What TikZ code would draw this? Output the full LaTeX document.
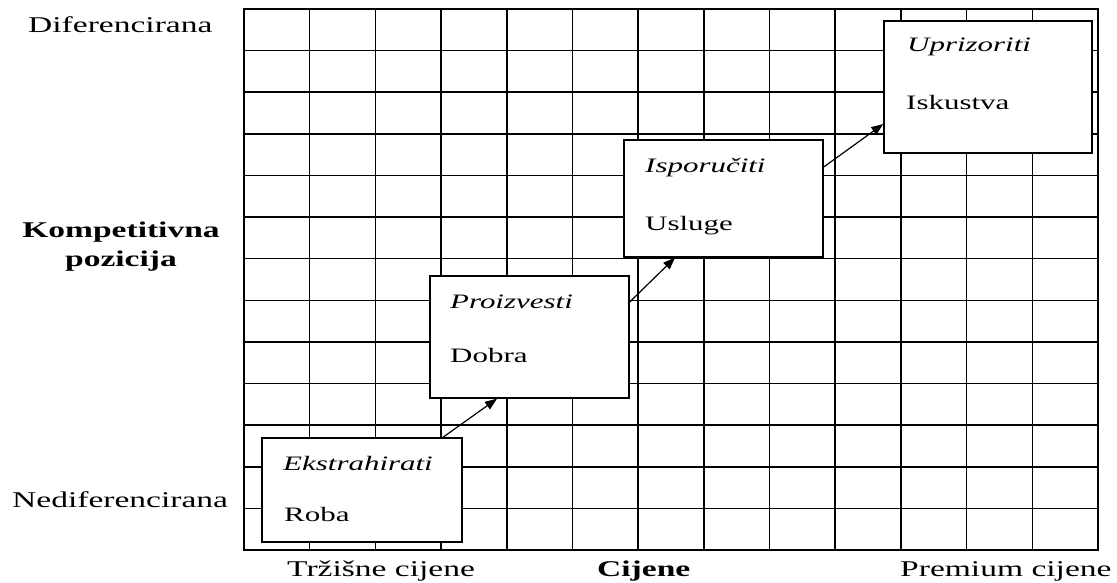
\documentclass[tikz,border=0pt]{standalone}
\usepackage{fontspec}
\usepackage{graphicx}
\setmainfont{Liberation Serif}
\usetikzlibrary{arrows.meta,calc}
\newcommand\wideL[1]{\scalebox{1.49}[1]{#1}}
\newcommand\wideT[1]{\scalebox{1.51}[1]{#1}}
\begin{document}
\begin{tikzpicture}[x=1pt,y=-1pt,
  gridline/.style={line width=1.5pt},
  box/.style={draw, fill=white, line width=1.4pt, inner sep=0pt},
  lbl/.style={font=\fontsize{22.5}{27}\selectfont, inner sep=0pt, anchor=base west},
  boxtxt/.style={font=\fontsize{20.5}{25}\selectfont, inner sep=0pt, anchor=base west},
  arr/.style={line width=1.2pt, -{Triangle[length=12pt,width=9pt]}}]
\useasboundingbox (0,0) rectangle (1117,583);
\fill[white] (0,0) rectangle (1117,583);
% grid
\foreach \i in {1,...,12} {
  \draw[gridline] ({244+\i*854/13},9) -- ({244+\i*854/13},550);
  \draw[gridline] (244,{9+\i*541/13}) -- (1098,{9+\i*541/13});
}
\draw[gridline] (244,9) rectangle (1098,550);
% boxes
\node[box, minimum width=200pt, minimum height=104pt] (b1) at (362,490) {};
\node[box, minimum width=199pt, minimum height=122pt] (b2) at (529.5,337) {};
\node[box, minimum width=199pt, minimum height=117pt] (b3) at (723.5,198.5) {};
\node[box, minimum width=208pt, minimum height=132pt] (b4) at (988,87) {};
% box texts
\node[boxtxt] (t1a) at (283,470) {\wideT{\itshape Ekstrahirati}};
\node[boxtxt] (t1b) at (284,521) {\wideT{Roba}};
\node[boxtxt] (t2a) at (450,308) {\wideT{\itshape Proizvesti}};
\node[boxtxt] (t2b) at (450,362) {\wideT{Dobra}};
\node[boxtxt] (t3a) at (645,172) {\wideT{\itshape Isporučiti}};
\node[boxtxt] (t3b) at (645,230) {\wideT{Usluge}};
\node[boxtxt] (t4a) at (907,52) {\wideT{\itshape Uprizoriti}};
\node[boxtxt] (t4b) at (906,110) {\wideT{Iskustva}};
% arrows
\draw[arr] ([xshift=81pt]b1.north) -- ([xshift=-32.5pt]b2.south);
\draw[arr] ([yshift=35pt]b2.east) -- ([xshift=-48.5pt]b3.south);
\draw[arr] ([yshift=31.5pt]b3.east) -- ([yshift=-37pt]b4.west);
% axis labels
\node[lbl] (ldif) at (28,33) {\wideL{Diferencirana}};
\node[lbl, anchor=base] (lkomp) at (121,237) {\wideL{\bfseries Kompetitivna}};
\node[lbl, anchor=base] (lpoz) at (121,266) {\wideL{\bfseries pozicija}};
\node[lbl] (lnedif) at (12,507) {\wideL{Nediferencirana}};
\node[lbl] (ltrz) at (287,576) {\wideL{Tržišne cijene}};
\node[lbl] (lcij) at (597,576) {\wideL{\bfseries Cijene}};
\node[lbl] (lprem) at (900,576) {\wideL{Premium cijene}};
\end{tikzpicture}
\end{document}
